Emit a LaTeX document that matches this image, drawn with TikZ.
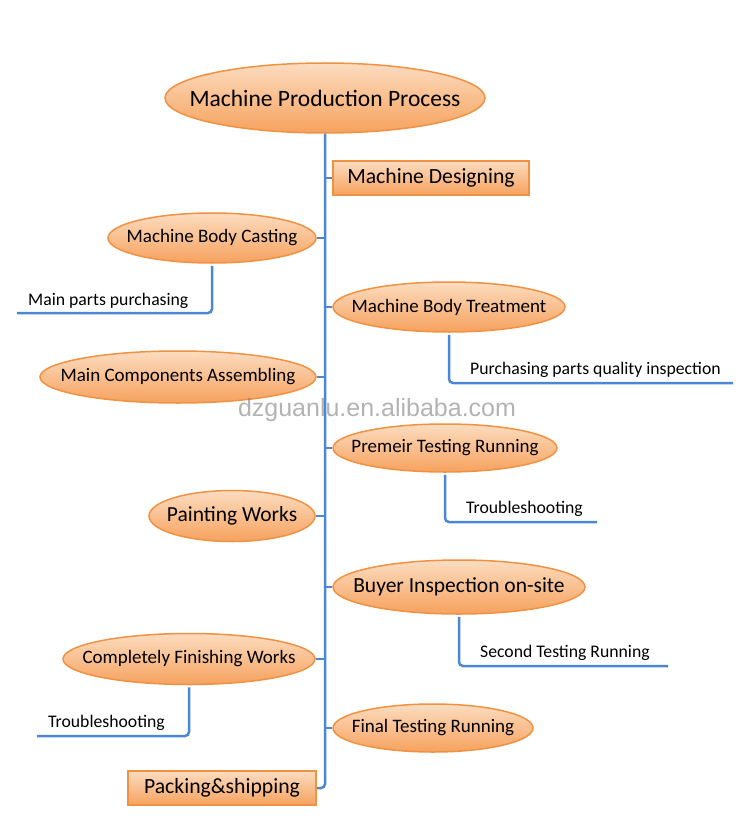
\documentclass[tikz,border=0pt]{standalone}
\usepackage{fontspec}
\setmainfont{Carlito}
\newfontfamily\markfont{Liberation Sans}
\usetikzlibrary{shapes.geometric,positioning}
\definecolor{peachtop}{RGB}{252,220,192}
\definecolor{peachbot}{RGB}{246,162,94}
\definecolor{peachline}{RGB}{240,146,66}
\definecolor{branchblue}{RGB}{76,135,214}

\begin{document}
\begin{tikzpicture}[x=1pt, y=-1pt]
    \tikzstyle{bubble} = [ellipse, draw=peachline, line width=1.5pt, top color=peachtop, bottom color=peachbot, inner xsep=-30pt, inner ysep=0pt, font=\fontsize{19}{22}\selectfont]
    \tikzstyle{stage} = [rectangle, draw=peachline, line width=1.5pt, top color=peachtop, bottom color=peachbot, inner sep=0pt, font=\fontsize{21.7}{25}\selectfont]
    \tikzstyle{leaf} = [anchor=base west, inner sep=0pt, font=\fontsize{17.7}{21}\selectfont]
    \tikzstyle{line} = [draw=branchblue, line width=2.5pt, rounded corners=4pt]

    \useasboundingbox (0,0) rectangle (750,821);

    \node [bubble, minimum width=320, minimum height=70, font=\fontsize{23.5}{27}\selectfont] (title) at (325,98) {Machine Production Process};
    \node [stage, minimum width=196, minimum height=34] (design) at (431,178) {Machine Designing};
    \node [bubble, minimum width=208, minimum height=50] (cast) at (212,238) {Machine Body Casting};
    \node [bubble, minimum width=232, minimum height=50] (treat) at (449,307) {Machine Body Treatment};
    \node [bubble, minimum width=276, minimum height=52] (assem) at (178,377) {Main Components Assembling};
    \node [bubble, minimum width=224, minimum height=48] (premeir) at (445,448) {Premeir Testing Running};
    \node [bubble, minimum width=166, minimum height=51, font=\fontsize{21.5}{25}\selectfont] (paint) at (232,516) {Painting Works};
    \node [bubble, minimum width=252, minimum height=54, font=\fontsize{21.5}{25}\selectfont] (buyer) at (459,587) {Buyer Inspection on-site};
    \node [bubble, minimum width=252, minimum height=51] (finish) at (189,659) {Completely Finishing Works};
    \node [bubble, minimum width=200, minimum height=48] (final) at (433,728) {Final Testing Running};
    \node [stage, minimum width=188, minimum height=34] (pack) at (222,788) {Packing\&shipping};

    \draw [line] (title.south) -- (title.south |- pack.east) -- (pack.east);
    \foreach \n in {design, treat, premeir, buyer, final}
        \draw [line] (\n.west) -- (\n.west -| title.south);
    \foreach \n in {cast, assem, paint, finish}
        \draw [line] (\n.east) -- (\n.east -| title.south);

    \node [leaf] (mpp) at (28,305) {Main parts purchasing};
    \node [leaf] (pqi) at (470,374) {Purchasing parts quality inspection};
    \node [leaf] (trbr) at (466,513) {Troubleshooting};
    \node [leaf] (str) at (480,657) {Second Testing Running};
    \node [leaf] (trbl) at (48,727) {Troubleshooting};

    \coordinate (mppend) at (17,313);
    \coordinate (pqiend) at (733,383);
    \coordinate (trbrend) at (597,522);
    \coordinate (strend) at (668,666);
    \coordinate (trblend) at (37,736);

    \draw [line] ([yshift=-2pt]cast.south) |- (mppend);
    \draw [line] ([yshift=-2pt]treat.south) |- (pqiend);
    \draw [line] ([yshift=-2pt]premeir.south) |- (trbrend);
    \draw [line] ([yshift=-2pt]buyer.south) |- (strend);
    \draw [line] ([yshift=-2pt]finish.south) |- (trblend);

    \node [font=\markfont\fontsize{25}{29}\selectfont, text=gray, text opacity=0.6] (mark) at (377,410) {dzguanlu.en.alibaba.com};
\end{tikzpicture}
\end{document}
